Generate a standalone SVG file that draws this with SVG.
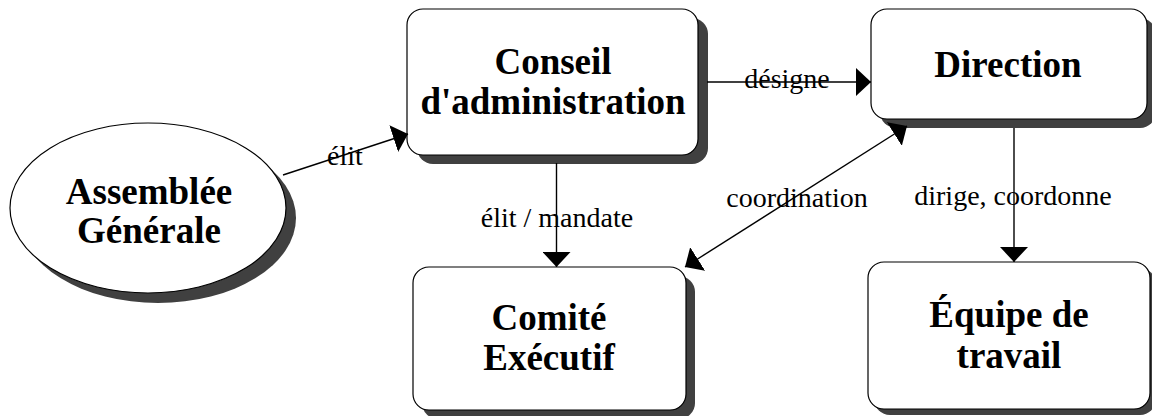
<svg xmlns="http://www.w3.org/2000/svg" width="1152" height="416" viewBox="0 0 1152 416">
<style>
.box{fill:#fff;stroke:#000;stroke-width:1.2}
.shadow{fill:#404040;stroke:none}
.title{font-family:"Liberation Serif","Times New Roman",serif;font-weight:bold;font-size:37px;fill:#000;text-anchor:middle}
.lbl{font-family:"Liberation Serif","Times New Roman",serif;font-size:28px;fill:#000;text-anchor:middle}
.conn{stroke:#000;stroke-width:1.4;fill:none}
</style>
<defs>
<marker id="arr" viewBox="0 0 15 28" refX="15" refY="14" markerWidth="15" markerHeight="28" markerUnits="userSpaceOnUse" orient="auto-start-reverse">
<path d="M0,0 L15,14 L0,28 z" fill="#000"/>
</marker>
</defs>
<rect width="1152" height="416" fill="#fff"/>
<g id="assemblee">
<ellipse class="shadow" cx="158" cy="218" rx="138" ry="85"/>
<ellipse class="box" cx="148" cy="208" rx="138" ry="85"/>
<text class="title" x="149" y="204">Assemblée</text>
<text class="title" x="149" y="243">Générale</text>
</g>
<g id="conseil">
<rect class="shadow" x="417" y="18" width="291" height="146" rx="16"/>
<rect class="box" x="407" y="9" width="291" height="146" rx="16"/>
<text class="title" x="553" y="74">Conseil</text>
<text class="title" x="553" y="114">d'administration</text>
</g>
<g id="direction">
<rect class="shadow" x="880" y="18" width="276" height="110" rx="16"/>
<rect class="box" x="871" y="9" width="276" height="110" rx="16"/>
<text class="title" x="1008" y="77">Direction</text>
</g>
<g id="comite">
<rect class="shadow" x="422" y="276" width="273" height="143" rx="16"/>
<rect class="box" x="413" y="267" width="273" height="143" rx="16"/>
<text class="title" x="549" y="330">Comité</text>
<text class="title" x="549" y="370">Exécutif</text>
</g>
<g id="equipe">
<rect class="shadow" x="874" y="268" width="282" height="147" rx="16"/>
<rect class="box" x="868" y="262" width="282" height="147" rx="16"/>
<text class="title" x="1009" y="327">Équipe de</text>
<text class="title" x="1009" y="368">travail</text>
</g>
<g id="connectors">
<line class="conn" x1="283" y1="175" x2="408" y2="134" marker-end="url(#arr)"/>
<line class="conn" x1="707" y1="82" x2="871" y2="82" marker-end="url(#arr)"/>
<line class="conn" x1="556.5" y1="163" x2="556.5" y2="267" marker-end="url(#arr)"/>
<line class="conn" x1="685" y1="267" x2="907" y2="126" marker-start="url(#arr)" marker-end="url(#arr)"/>
<line class="conn" x1="1014" y1="128" x2="1014" y2="262" marker-end="url(#arr)"/>
<text class="lbl" x="345" y="165">élit</text>
<text class="lbl" x="787" y="88">désigne</text>
<text class="lbl" x="557" y="227">élit / mandate</text>
<text class="lbl" x="797" y="207">coordination</text>
<text class="lbl" x="1013" y="205">dirige, coordonne</text>
</g>
</svg>
